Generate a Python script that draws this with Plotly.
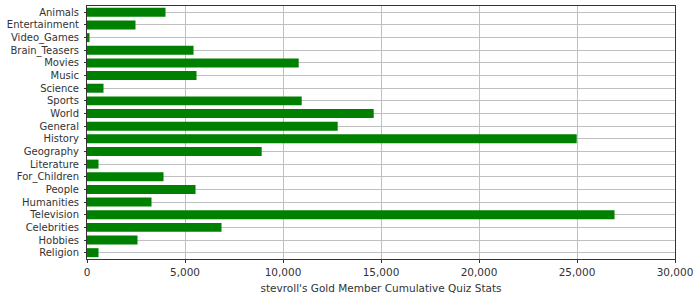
import plotly.graph_objects as go

categories = ["Animals", "Entertainment", "Video_Games", "Brain_Teasers", "Movies", "Music",
              "Science", "Sports", "World", "General", "History", "Geography", "Literature",
              "For_Children", "People", "Humanities", "Television", "Celebrities", "Hobbies", "Religion"]
values = [4005, 2474, 128, 5434, 10801, 5587, 842, 10954, 14628, 12791, 24985, 8913, 587,
          3903, 5536, 3291, 26915, 6862, 2577, 587]
x_ticks = [0, 5000, 10000, 15000, 20000, 25000, 30000]
x_title = "stevroll's Gold Member Cumulative Quiz Stats"

fig = go.Figure(go.Bar(
    x=values, y=categories, orientation="h",
    marker=dict(color="#008000", line=dict(width=0)),
))

fig.update_layout(
    width=700, height=300,
    margin=dict(l=87, r=25, t=6, b=41),
    paper_bgcolor="white", plot_bgcolor="white",
    bargap=0.29,
    showlegend=False,
    font=dict(family="DejaVu Sans", size=10.5, color="#333333"),
)
fig.update_xaxes(
    range=[0, 30000], tickvals=x_ticks, ticktext=[f"{v:,}" for v in x_ticks],
    showgrid=True, gridcolor="#c0c0c0", gridwidth=1,
    showline=True, linecolor="#333333", linewidth=1, mirror=True,
    ticks="outside", ticklen=3, tickcolor="#333333",
    zeroline=False, automargin=False,
    tickfont=dict(size=10.5),
    title=dict(text=x_title, standoff=8, font=dict(size=10.5)),
)
fig.update_yaxes(
    autorange="reversed", tickmode="array", tickvals=categories, ticktext=categories,
    showgrid=True, gridcolor="#c0c0c0", gridwidth=1,
    showline=True, linecolor="#333333", linewidth=1, mirror=True,
    ticks="outside", ticklen=2, tickcolor="#333333",
    automargin=False, ticklabelstandoff=3,
    tickfont=dict(size=10),
)
fig.write_html("out.html")
